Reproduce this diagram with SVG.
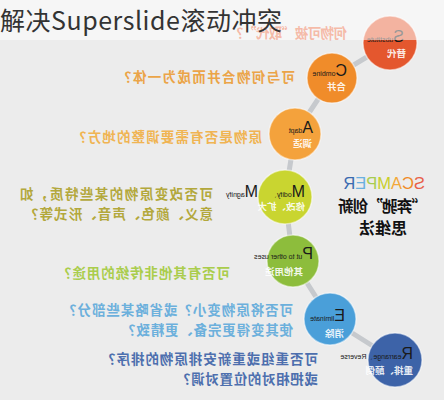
<svg xmlns="http://www.w3.org/2000/svg" width="444" height="400" viewBox="0 0 444 400">
<style>
.big{font-family:"Liberation Sans",Arial,sans-serif;font-size:16px;fill:#1a1a1a}
.sm{font-family:"Liberation Sans",Arial,sans-serif;font-size:7px;fill:#1a1a1a}
.cn{font-family:"Noto Sans CJK SC",sans-serif;font-size:9.5px;fill:#ffffff;font-weight:bold;fill-opacity:0.9}
.side{font-family:"Noto Sans CJK SC",sans-serif;font-size:13.5px;font-weight:bold}
.ring{stroke:#ffffff;stroke-opacity:0.5;stroke-width:1.5}
</style>
<rect x="0" y="0" width="444" height="400" fill="#ececec"/>
<g transform="matrix(-1 0 0 1 444 0)">
  <g id="connectors" stroke="#c6c9cd" stroke-width="5" fill="none" stroke-linecap="round">
    <polyline points="54,43 112,78 149,134 159,197 151,261 114,319 49,360"/>
  </g>
  <g id="node-s">
    <circle cx="54" cy="43" r="27" fill="#e4572e" class="ring"/>
    <text x="40" y="42"><tspan class="big">S</tspan><tspan class="sm">ubstitute</tspan></text>
    <text x="38" y="57" class="cn">替代</text>
    <text x="97" y="38" class="side" fill="#e8683f" font-size="13" textLength="117">何物可被“取代”？</text>
  </g>
  <g id="node-c">
    <circle cx="112" cy="78" r="25" fill="#f08c2a" class="ring"/>
    <text x="97" y="76"><tspan class="big">C</tspan><tspan class="sm">ombine</tspan></text>
    <text x="98" y="90" class="cn">合并</text>
    <text x="149" y="82" class="side" fill="#eba448" textLength="177">可与何物合并而成为一体？</text>
  </g>
  <g id="node-a">
    <circle cx="149" cy="134" r="26" fill="#f4a23c" class="ring"/>
    <text x="131" y="133"><tspan class="big">A</tspan><tspan class="sm">dapt</tspan></text>
    <text x="132" y="147" class="cn">调适</text>
    <text x="182" y="142" class="side" fill="#f0b452" textLength="189">原物是否有需要调整的地方？</text>
  </g>
  <g id="node-m">
    <circle cx="159" cy="197" r="27" fill="#c9d530" class="ring"/>
    <text x="139" y="197"><tspan class="big">M</tspan><tspan class="sm">odify、</tspan><tspan class="big" x="186">M</tspan><tspan class="sm">agnify</tspan></text>
    <text x="139" y="210" class="cn" font-size="8.5">修改、扩大</text>
    <text x="231" y="199" class="side" fill="#b3a83c" textLength="193">可否改变原物的某些特质，如</text>
    <text x="231" y="219" class="side" fill="#b3a83c" textLength="188">意义、颜色、声音、形式等？</text>
  </g>
  <g id="node-p">
    <circle cx="151" cy="261" r="26" fill="#8dbd3c" class="ring"/>
    <text x="131" y="259"><tspan class="big">P</tspan><tspan class="sm">ut to other uses</tspan></text>
    <text x="141" y="275" class="cn" font-size="8.5">其他用途</text>
    <text x="214" y="278" class="side" fill="#aacd4c" textLength="172">可否有其他非传统的用途？</text>
  </g>
  <g id="node-e">
    <circle cx="114" cy="319" r="26" fill="#4a9fd9" class="ring"/>
    <text x="99" y="321"><tspan class="big">E</tspan><tspan class="sm">liminate</tspan></text>
    <text x="100" y="337" class="cn">消除</text>
    <text x="151" y="315" class="side" fill="#6cb0dc" textLength="230">可否将原物变小？或省略某些部分？</text>
    <text x="151" y="335" class="side" fill="#6cb0dc" textLength="171">使其变得更完备、更精致？</text>
  </g>
  <g id="node-r">
    <circle cx="49" cy="360" r="27" fill="#3d63a8" class="ring"/>
    <text x="31" y="359"><tspan class="big">R</tspan><tspan class="sm">earrange、Reverse</tspan></text>
    <text x="31" y="374" class="cn" font-size="8.5">重排、颠倒</text>
    <text x="126" y="364" class="side" fill="#4d6fae" font-size="13" textLength="216">可否重组或重新安排原物的排序？</text>
    <text x="126" y="384" class="side" fill="#4d6fae" font-size="13" textLength="141">或把相对的位置对调？</text>
  </g>
  <g id="scamper-title">
    <text x="19" y="189" font-family="'Liberation Sans',Arial,sans-serif" font-size="16.5"><tspan fill="#e8604a">S</tspan><tspan fill="#f08a24">C</tspan><tspan fill="#f3a83a">A</tspan><tspan fill="#c8cf2a">M</tspan><tspan fill="#a8cc50">P</tspan><tspan fill="#6ab0e0">E</tspan><tspan fill="#3a6ab0">R</tspan></text>
    <text x="17" y="212" font-family="'Noto Sans CJK SC',sans-serif" font-size="15.5" font-weight="bold" fill="#111" textLength="89">“奔驰”创新</text>
    <text x="61" y="234" font-family="'Noto Sans CJK SC',sans-serif" font-size="16" font-weight="bold" fill="#111" text-anchor="middle">思维法</text>
  </g>
</g>
<rect x="0" y="0" width="444" height="40" fill="#ffffff" fill-opacity="0.55"/>
<text id="title" x="0" y="30" font-family="'Noto Sans CJK SC',sans-serif" font-size="25" fill="#333333" textLength="282">解决Superslide滚动冲突</text>
</svg>
